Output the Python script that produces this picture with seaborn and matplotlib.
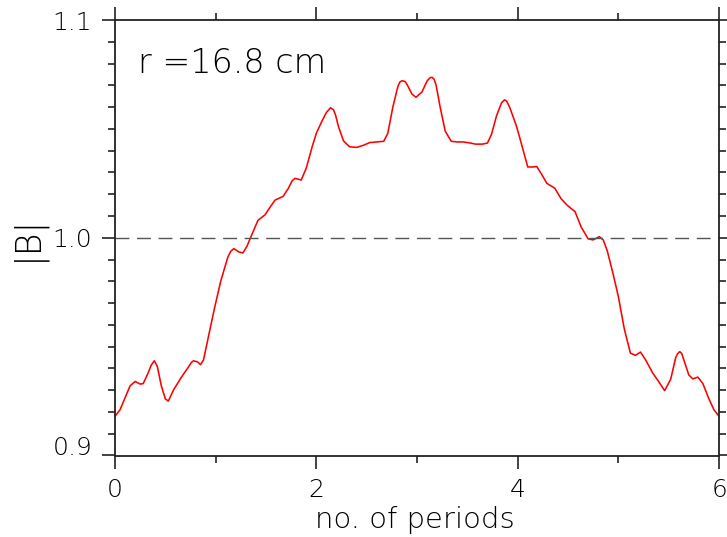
import matplotlib
matplotlib.use("Agg")
import matplotlib.pyplot as plt
import matplotlib.transforms as mtransforms
from matplotlib import font_manager as fm
from matplotlib.ticker import MultipleLocator
import seaborn as sns
import pandas as pd

# data
periods = [0.00, 0.05, 0.10, 0.15, 0.20, 0.25, 0.28, 0.33, 0.36, 0.39, 0.42, 0.46, 0.50, 0.53,
           0.58, 0.66, 0.72, 0.76, 0.78, 0.82, 0.85, 0.88, 0.93, 0.99, 1.05, 1.12, 1.15, 1.18, 1.23,
           1.27, 1.31, 1.36, 1.42, 1.49, 1.54, 1.59, 1.67, 1.72, 1.76, 1.79, 1.85, 1.90, 1.96,
           2.00, 2.06, 2.10, 2.14, 2.17, 2.19, 2.22, 2.27, 2.33, 2.40, 2.47, 2.53, 2.60, 2.67, 2.71,
           2.76, 2.81, 2.83, 2.85, 2.88, 2.90, 2.95, 2.99, 3.05, 3.10, 3.13, 3.15, 3.17, 3.19, 3.23,
           3.28, 3.34, 3.40, 3.46, 3.53, 3.58, 3.65, 3.70, 3.74, 3.79, 3.84, 3.87, 3.89, 3.92, 3.99,
           4.05, 4.10, 4.15, 4.19, 4.24, 4.29, 4.37, 4.43, 4.49, 4.57, 4.63, 4.70, 4.75, 4.81,
           4.85, 4.89, 4.95, 5.00, 5.06, 5.12, 5.17, 5.22, 5.27, 5.34, 5.40, 5.46, 5.52,
           5.57, 5.59, 5.61, 5.63, 5.65, 5.70, 5.74, 5.79, 5.84, 5.90, 5.95, 6.00]
b_abs = [0.918, 0.921, 0.9265, 0.932, 0.934, 0.9328, 0.933, 0.938, 0.9415, 0.9435, 0.941,
         0.932, 0.926, 0.925, 0.930, 0.936, 0.940, 0.9428, 0.9435, 0.943, 0.9417, 0.944,
         0.955, 0.968, 0.980, 0.991, 0.9938, 0.995, 0.9935, 0.993, 0.996, 1.0015, 1.008,
         1.0105, 1.014, 1.0173, 1.019, 1.0225, 1.0262, 1.0273, 1.0265, 1.032, 1.042, 1.048,
         1.054, 1.0575, 1.0597, 1.0588, 1.0565, 1.051, 1.0445, 1.0418, 1.0415, 1.0425,
         1.0437, 1.044, 1.0443, 1.048, 1.060, 1.0695, 1.0715, 1.0721, 1.0718, 1.0705, 1.066,
         1.0645, 1.067, 1.072, 1.0735, 1.0737, 1.0728, 1.070, 1.060, 1.049, 1.0443, 1.044,
         1.044, 1.0435, 1.043, 1.043, 1.0435, 1.0475, 1.056, 1.062, 1.0633, 1.0628, 1.060,
         1.051, 1.041, 1.0325, 1.0325, 1.0327, 1.029, 1.025, 1.0227, 1.018, 1.015, 1.012,
         1.005, 0.9995, 0.999, 1.0005, 0.999, 0.994, 0.983, 0.973, 0.958, 0.947, 0.946,
         0.9475, 0.944, 0.938, 0.934, 0.9298, 0.935, 0.945, 0.9468, 0.9477, 0.9468, 0.944,
         0.937, 0.9352, 0.936, 0.933, 0.926, 0.921, 0.918]
reference_level = 1.0
x_ticks = [0, 2, 4, 6]
y_ticks = [0.9, 1.0, 1.1]
y_tick_labels = ["0.9", "1.0", "1.1"]
x_label = "no. of periods"
y_label = "|B|"
annotation = "r =16.8 cm"


def pick_light_font():
    for name in ["DejaVu Sans", "Open Sans", "Noto Sans", "Lato", "Roboto", "Inter"]:
        ws = [f.weight for f in fm.fontManager.ttflist
              if f.name == name and f.style == "normal" and f.stretch == "normal"
              and isinstance(f.weight, int)]
        light = [w for w in ws if 200 <= w <= 300]
        if light:
            return name, max(light)
    return "DejaVu Sans", "normal"


font_name, font_weight = pick_light_font()

sns.set_theme(style="ticks")
plt.rcParams["font.family"] = [font_name, "DejaVu Sans"]
plt.rcParams["font.weight"] = font_weight

TXT = "#000000"
fig = plt.figure(figsize=(7.27, 5.37), dpi=100)
ax = fig.add_axes([115 / 727, 1 - 455.5 / 537, 604 / 727, 435.5 / 537])

df = pd.DataFrame({"periods": periods, "B": b_abs})
sns.lineplot(data=df, x="periods", y="B", ax=ax, color="#ff0000", linewidth=1.15,
             estimator=None, sort=False)
ax.axhline(reference_level, color="#555555", linewidth=1.0, dashes=(10, 5.5))

ax.set_xlim(0, 6)
ax.set_ylim(0.9, 1.1)
ax.set_xticks(x_ticks)
ax.set_xticklabels([str(t) for t in x_ticks])
ax.set_yticks(y_ticks)
ax.set_yticklabels(y_tick_labels)
ax.xaxis.set_minor_locator(MultipleLocator(1))
ax.yaxis.set_minor_locator(MultipleLocator(0.01))

for side in ["top", "right", "bottom", "left"]:
    ax.spines[side].set_visible(True)
    ax.spines[side].set_linewidth(1.3)
    ax.spines[side].set_color("#222222")

ax.tick_params(which="both", direction="out", top=True, right=True, colors="#222222",
               width=1.2, labelsize=18, labelcolor=TXT)
ax.tick_params(which="major", length=9.5)
ax.tick_params(which="minor", length=5)
ax.tick_params(axis="x", which="major", pad=7)
ax.tick_params(axis="y", which="major", pad=7)

# shift the lowest y label up like the reference
offset = mtransforms.ScaledTranslation(0, 7 / 72, fig.dpi_scale_trans)
ylabels = ax.get_yticklabels()
ylabels[0].set_transform(ylabels[0].get_transform() + offset)

for lab in ax.get_xticklabels() + ax.get_yticklabels():
    lab.set_fontweight(font_weight)

ax.set_xlabel(x_label, fontsize=21, color=TXT, fontweight=font_weight)
ax.xaxis.label.set_va("baseline")
ax.xaxis.set_label_coords(0.4967, (455.5 - 528) / 435.5)

ax.set_ylabel(y_label, fontsize=25, color=TXT, fontweight=font_weight)
ax.yaxis.label.set_va("center")
ax.yaxis.set_label_coords((27 - 115) / 604, 0.5)

ax.text(0.038, (455.5 - 73) / 435.5, annotation, transform=ax.transAxes, fontsize=24,
        ha="left", va="baseline", color=TXT, fontweight=font_weight)

fig.savefig("out.png", dpi=100)
